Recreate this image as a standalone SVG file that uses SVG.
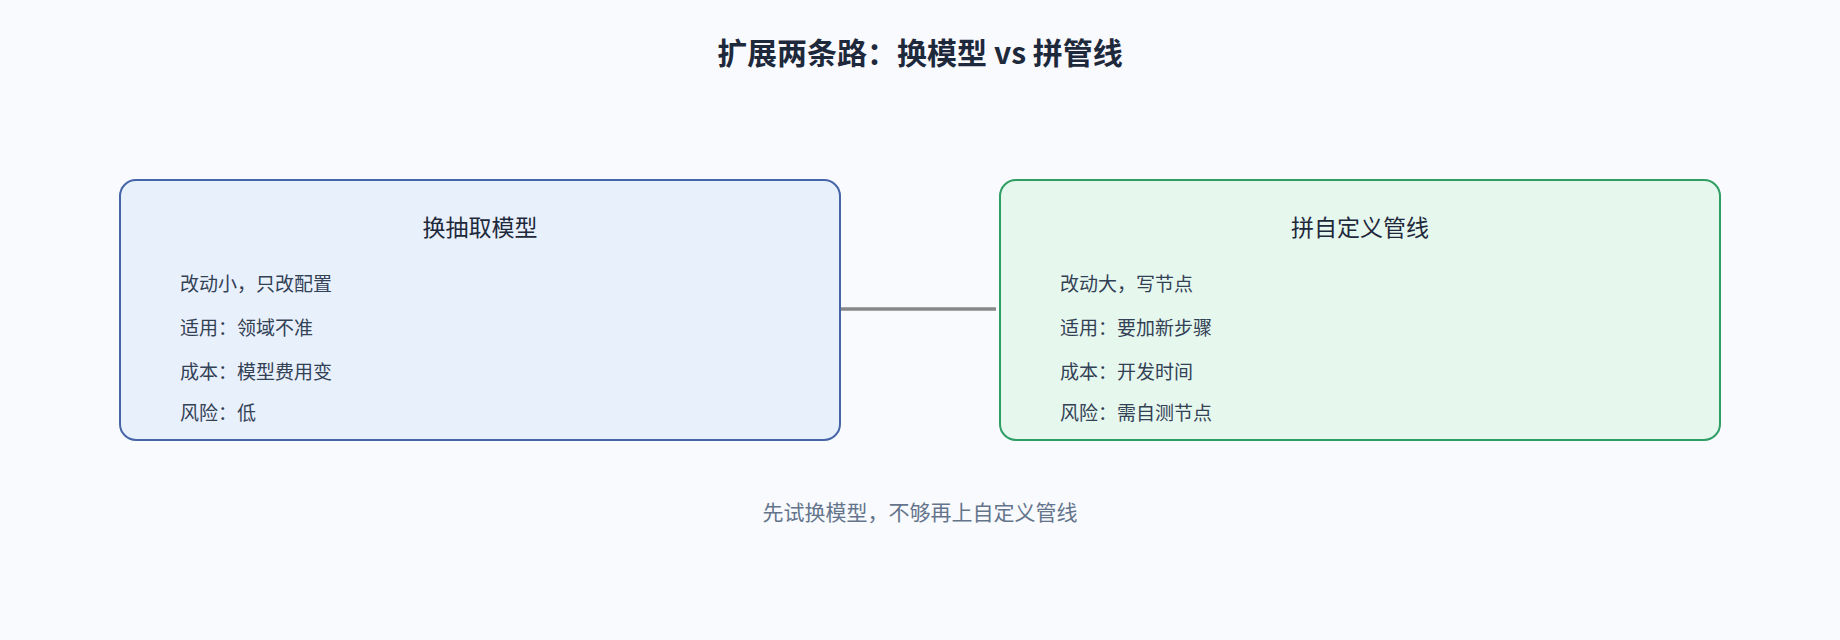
<svg xmlns="http://www.w3.org/2000/svg" width="1840" height="640" viewBox="0 0 1840 640">
<style>
text{font-family:"Noto Sans CJK SC","Noto Sans",sans-serif}
.t{font-size:30px;font-weight:bold;fill:#1e293b}
.h{font-size:23px;fill:#1e293b}
.l{font-size:19px;fill:#334155}
.f{font-size:21px;fill:#64748b}
</style>
<rect width="1840" height="640" fill="#f8fafe"/>
<text class="t" x="920" y="64" text-anchor="middle">扩展两条路：换模型 vs 拼管线</text>
<g id="connectors"><line x1="840" y1="309" x2="996" y2="309" stroke="#888" stroke-width="3.5"/></g>
<g id="left">
<rect x="120" y="180" width="720" height="260" rx="16" fill="#e8f0fc" stroke="#4565a8" stroke-width="2"/>
<text class="h" x="480" y="236" text-anchor="middle">换抽取模型</text>
<text class="l" x="180" y="291">改动小，只改配置</text>
<text class="l" x="180" y="335">适用：领域不准</text>
<text class="l" x="180" y="379">成本：模型费用变</text>
<text class="l" x="180" y="420">风险：低</text>
</g>
<g id="right">
<rect x="1000" y="180" width="720" height="260" rx="16" fill="#e6f7ee" stroke="#2f9e64" stroke-width="2"/>
<text class="h" x="1360" y="236" text-anchor="middle">拼自定义管线</text>
<text class="l" x="1060" y="291">改动大，写节点</text>
<text class="l" x="1060" y="335">适用：要加新步骤</text>
<text class="l" x="1060" y="379">成本：开发时间</text>
<text class="l" x="1060" y="420">风险：需自测节点</text>
</g>
<text class="f" x="920" y="520" text-anchor="middle">先试换模型，不够再上自定义管线</text>
</svg>
